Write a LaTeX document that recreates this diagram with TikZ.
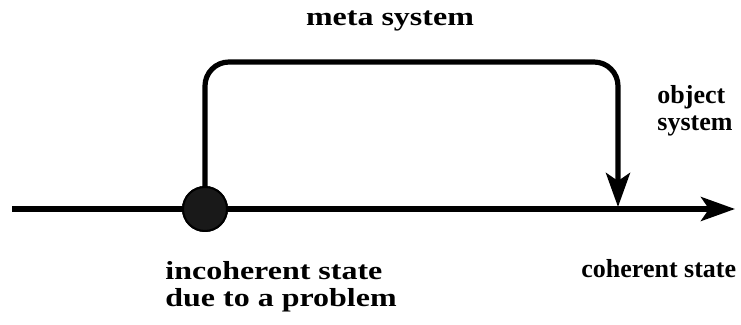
\documentclass[tikz,border=0pt]{standalone}
\usepackage{fontspec}
\usepackage{graphicx}
\setmainfont{Liberation Serif}
\usetikzlibrary{arrows.meta,positioning}
\tikzset{
  >={Stealth[length=17pt,width=12pt,inset=4pt]},
  flow/.style={line width=2.6pt,black},
  lbl/.style={font=\fontsize{13}{13.5}\selectfont\bfseries,align=left,inner sep=0pt},
  state/.style={circle,fill=black!90,draw=black,line width=1pt,minimum size=22pt,inner sep=0pt},
}
\newcommand{\wide}[1]{\scalebox{1.23}[1]{#1}}

\begin{document}
\begin{tikzpicture}[x=0.5pt,y=-0.5pt]
\useasboundingbox (0,0) rectangle (741,325);
% object system: state line
\coordinate (start) at (12,209);
\coordinate (stop) at (735,209);
\coordinate (hit) at (618,207);
\node[state] (inc) at (205,209) {};
\draw[flow] (start)--(inc);
\draw[flow,->] (inc)--(stop);
% meta system loop
\draw[flow,->,rounded corners=12pt] (inc.north) |- (618,62) -- (hit);
\node[state] at (inc) {};
% labels
\node[lbl] (meta) at (390,21) {\wide{meta system}};
\node[lbl,anchor=north west] (obj) at (657,85) {object\\system};
\node[lbl,anchor=north west] (incl) at (165,261) {\wide{incoherent state}\\\wide{due to a problem}};
\node[lbl,anchor=base west] (coh) at (581,278) {coherent state};
\end{tikzpicture}
\end{document}
